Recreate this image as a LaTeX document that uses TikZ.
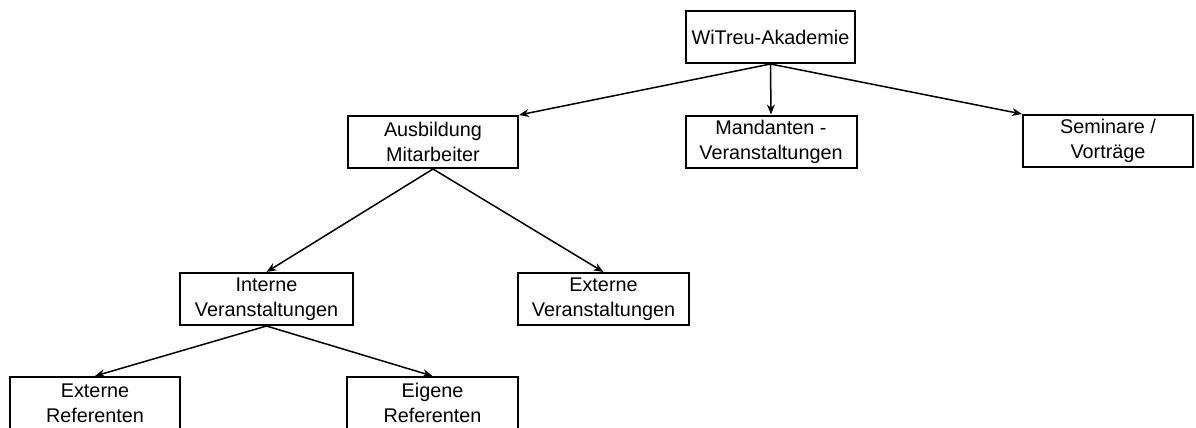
\documentclass[tikz,border=0pt]{standalone}
\usepackage{fontspec}
\setmainfont{Liberation Sans}
\usetikzlibrary{arrows.meta}
\begin{document}
\begin{tikzpicture}[x=0.5pt,y=-0.5pt,
  box/.style={draw=black, line width=1pt, fill=white, minimum width=85pt, minimum height=26pt, inner sep=0pt, align=center, font=\fontsize{9.9}{12.6}\selectfont},
  conn/.style={line width=0.75pt, -{Stealth[length=5pt,width=4pt]}}]
\useasboundingbox (0,0) rectangle (1196,428);
\node[box, minimum width=84.5pt] (wit) at (770.5,37) {WiTreu-Akademie};
\node[box] (aus) at (433,142) {Ausbildung\\Mitarbeiter};
\node[box, minimum width=85.5pt] (man) at (771,141.5) {Mandanten -\\Veranstaltungen};
\node[box] (sem) at (1108,141) {Seminare /\\Vorträge};
\node[box, minimum width=86.5pt] (int) at (266.5,299) {Interne\\Veranstaltungen};
\node[box, minimum width=85.5pt] (ext) at (603.5,299) {Externe\\Veranstaltungen};
\node[box] (exr) at (95,403) {Externe\\Referenten};
\node[box, minimum width=85.5pt] (eir) at (432.5,403) {Eigene\\Referenten};
\draw[conn] (wit.south) -- (aus.north east);
\draw[conn] (wit.south) -- (man.north);
\draw[conn] (wit.south) -- (sem.north west);
\draw[conn] (aus.south) -- (int.north);
\draw[conn] (aus.south) -- (ext.north);
\draw[conn] (int.south) -- (exr.north);
\draw[conn] (int.south) -- (eir.north);
\end{tikzpicture}
\end{document}
